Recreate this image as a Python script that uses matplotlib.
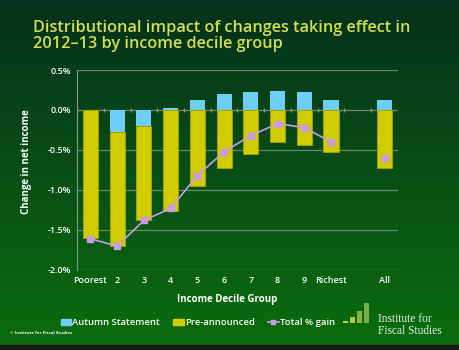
import matplotlib
matplotlib.use("Agg")
import matplotlib.pyplot as plt
from matplotlib.patches import Patch, Rectangle
from matplotlib.lines import Line2D
import numpy as np

labels = ['Poorest', '2', '3', '4', '5', '6', '7', '8', '9', 'Richest', 'All']
autumn = [0.0, -0.28, -0.20, 0.025, 0.13, 0.20, 0.23, 0.24, 0.22, 0.13, 0.12]
pre = [-1.60, -1.42, -1.18, -1.26, -0.95, -0.72, -0.55, -0.40, -0.44, -0.53, -0.72]
total = [-1.61, -1.70, -1.38, -1.23, -0.82, -0.52, -0.32, -0.17, -0.22, -0.40, -0.60]
yticks = [0.5, 0.0, -0.5, -1.0, -1.5, -2.0]

C_AUT = '#6dcff6'
C_PRE = '#d0cc00'
C_TOT = '#c99be8'
C_TITLE = '#d6e04c'
C_GRID = '#869a86'

plt.rcParams['font.family'] = ['Open Sans', 'DejaVu Sans']

fig = plt.figure(figsize=(4.6, 3.5), dpi=100)

# background gradient
bg = fig.add_axes([0, 0, 1, 1], zorder=-10)
grad = np.linspace(0, 1, 256).reshape(-1, 1)
top = np.array([0.02, 0.19, 0.11])
bot = np.array([0.04, 0.43, 0.05])
img = top + (bot - top) * grad[:, :, None]
bg.imshow(img, aspect='auto', extent=[0, 1, 0, 1])
bg.add_patch(Rectangle((0, 0), 1, 0.014, color='#1a1a1a'))
bg.set_xlim(0, 1)
bg.set_ylim(0, 1)
bg.axis('off')

ax = fig.add_axes([0.1674, 0.2286, 0.6978, 0.5714])
ax.set_facecolor('none')

pos = np.array(list(range(10)) + [11])
aut = np.array(autumn)
pr = np.array(pre)
w = 0.57
ax.bar(pos, aut, width=w, color=C_AUT, zorder=3)
ax.bar(pos, pr, width=w, bottom=np.minimum(aut, 0), color=C_PRE,
       edgecolor='#a8a400', linewidth=0.6, zorder=3)
ax.plot(pos[:10], total[:10], color=C_TOT, marker='s', markersize=4, lw=1.2, zorder=4)
ax.plot(pos[10:], total[10:], color=C_TOT, marker='s', markersize=4, lw=0, zorder=4)

ax.set_xlim(-0.5, 11.5)
ax.set_ylim(-2.0, 0.5)
ax.set_yticks(yticks)
ax.set_yticklabels([f'{v:.1f}%' for v in yticks])
ax.set_xticks(pos)
ax.set_xticklabels(labels)
ax.tick_params(length=0, colors='white', labelsize=6.5, pad=4)
for t in ax.get_xticklabels() + ax.get_yticklabels():
    t.set_fontweight('semibold')
ax.grid(axis='y', color=C_GRID, lw=0.9, alpha=0.8, zorder=0)
ax.plot(np.arange(0, 12) - 0.5, np.zeros(12), ls='none', marker='|',
        ms=2.5, color=C_GRID, zorder=2)
for s in ['top', 'right', 'bottom']:
    ax.spines[s].set_visible(False)
ax.spines['left'].set_color(C_GRID)

fig.text(0.072, 0.943, 'Distributional impact of changes taking effect in\n2012\u201313 by income decile group',
         color=C_TITLE, fontsize=11.7, va='top', ha='left', linespacing=1.0, fontweight='semibold')
fig.text(0.058, 0.537, 'Change in net income', rotation=90, color='white',
         fontsize=7, fontweight='bold', ha='center', va='center')
fig.text(0.494, 0.145, 'Income Decile Group', color='white',
         fontsize=7, fontweight='bold', ha='center', va='center')
fig.text(0.022, 0.048, '\u00a9 Institute for Fiscal Studies', color='white',
         fontsize=3.2, fontweight='bold', ha='left', va='center')

handles = [Patch(color=C_AUT), Patch(color=C_PRE),
           Line2D([], [], color=C_TOT, marker='s', markersize=3.5, lw=1.2)]
leg = fig.legend(handles, ['Autumn Statement', 'Pre-announced', 'Total % gain'],
                 loc='center', bbox_to_anchor=(0.43, 0.078), ncol=3, frameon=False,
                 handlelength=1.1, handleheight=0.5, handletextpad=0.15,
                 columnspacing=1.4, fontsize=6.8)
for t in leg.get_texts():
    t.set_color('white')
    t.set_fontweight('semibold')

# IFS logo
logo = fig.add_axes([0.745, 0.077, 0.062, 0.056])
logo.set_xlim(0, 4)
logo.set_ylim(0, 1)
logo.axis('off')
logo.bar([0.35, 1.35, 2.35, 3.35], [0.12, 0.33, 0.62, 1.0], width=0.65,
         color=['#c8d43a', '#b6c93a', '#8fb43c', '#7ab04a'])
fig.text(0.822, 0.072, 'Institute for\nFiscal Studies', color='#e8efe4',
         family='Liberation Serif', fontsize=8.3, ha='left', va='center', linespacing=0.95)

fig.savefig('out.png', dpi=100)
